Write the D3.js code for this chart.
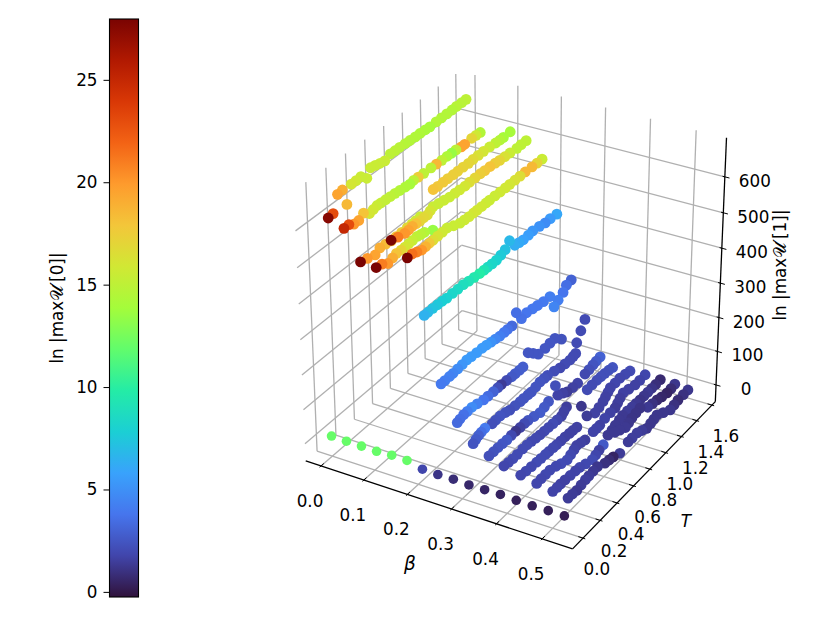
<!DOCTYPE html>
<html><head><meta charset="utf-8">
<script src="https://cdn.jsdelivr.net/npm/d3@7"></script>
<style>
body{margin:0;background:#fff}
text{font-family:"DejaVu Sans";fill:#000;font-size:16.8px}
</style>
</head><body><svg id="chart" width="830" height="623"></svg>
<script>
var xTicks=[0,0.1,0.2,0.3,0.4,0.5];
var yTicks=[0,0.2,0.4,0.6,0.8,1,1.2,1.4,1.6];
var zTicks=[0,100,200,300,400,500,600];
var cTicks=[0,5,10,15,20,25];
var turboStops=["#30123b","#4145ab","#4675ed","#39a2fc","#1bcfd4","#24eca6","#61fc6c","#a4fc3b","#d1e834","#f3c63a","#fe9b2d","#f36315","#d93806","#b11901","#7a0402"];

var betaValues=[0,0.035,0.07,0.105,0.14,0.175,0.21,0.245,0.28,0.315,0.35,0.385,0.42,0.455,0.49,0.525];

// T = 0 row
var rowZ=[9,8,8,7,10,9,-2,-3,-2,-4,-3,-2,-4,-5,-4,-4];
var rowC=[12,12,12,12,12,12,1.8,1.1,0.8,0.6,0.5,0.4,0.3,0.3,0.3,0.2];

// one list per beta
var tempValues=[
[.05,.10,.24,.15,.20,.29,.34,.39,.45,.49,.54,.59,.64,.70,.75,.80,.86,.91,.97,1.02,1.08,1.13,1.20,1.26,1.32,1.38,1.43,1.49,1.54],
[.05,.10,.15,.20,.25,.31,.35,.39,.43,.48,.53,.58,.63,.69,.74,.78,.83,.89,.97,1.03,1.09,1.15,1.20,1.25,1.31,1.35,1.43,1.48,1.53],
[.05,.12,.20,.25,.31,.37,.42,.48,.54,.59,.63,.68],
[.05,.11,.17,.22,.26,.31,.35,.39,.43,.48,.52,.56,.65,.66,.71,.77,.82,.88,.93,.99,1.05,1.10,1.16,1.22,1.29,1.36,1.41,1.45,1.53],
[.05,.12,.19,.23,.27,.31,.35,.39,.43,.46,.49,.55,.61,.67,.73,.78,.84,.89,.95,1.01,1.06,1.12,1.18,1.23,1.29,1.35,1.43,1.48,1.54],
[.05,.10,.15,.20,.24,.28,.32,.37,.42,.47,.54,.61,.66,.71,.76,.80,.85,.90,.94,1.00,1.06,1.12,1.17,1.23,1.29,1.35,1.43,1.49,1.55],
[.05,.09,.14,.19,.24,.29,.35,.41,.47,.53,.59,.65,.70,.74,.79,.84,.89,.94,.99,1.05,1.10,1.15,1.21,1.26,1.34,1.41,1.47,1.55],
[.05,.09,.14,.18,.23,.28,.33,.38,.44,.50,.55,.60,.65,.70,.75,.79,.84,.89,.95,1.01,1.08,1.14,1.21,1.29,1.34,1.39,1.45,1.49,1.55],
[.05,.08,.12,.16,.21,.27,.34,.39,.45,.50,.54,.60,.66,.70,.75,.79,.85,.91,.97,1.05,1.11,1.17,1.25,1.44,1.49,1.54],
[.05,.08,.11,.14,.18,.26,.30,.35,.41,.46,.52,.58,.62,.67,.71,.76,.81,.86,.90,.98,1.05,1.11,1.17,1.21,1.24,1.36,1.41,1.46,1.50,1.55],
[.05,.10,.15,.20,.25,.30,.35,.40,.45,.49,.56,.63,.68,.73,.81,.84,.90,.95,1.02,1.08,1.20,1.26,1.32,1.37,1.42,1.47,1.52],
[.04,.09,.14,.19,.25,.30,.35,.40,.45,.50,.55,.60,.65,.70,.73,.76,.94,1.01,1.11,1.16,1.21,1.24,1.27,1.30,1.36,1.42,1.49,1.55],
[.05,.11,.17,.23,.28,.33,.37,.42,.46,.51,.56,.61,.65,.70,.90,.94,.98,1.04,1.11,1.17,1.20,1.23,1.27,1.34,1.42,1.48,1.55],
[.05,.10,.15,.20,.27,.33,.40,.44,.48,.51,.56,.61,.89,.94,.98,1.03,1.07,1.13,1.19,1.24,1.29,1.34,1.39,1.44,1.49,1.55],
[.05,.10,.14,.19,.25,.31,.36,.43,.51,.55,.59,.64,.78,.84,.91,.95,.99,1.04,1.09,1.19,1.25,1.31,1.37,1.44,1.49,1.54],
[.04,.09,.14,.19,.24,.28,.33,.38,.47,.52,.57,.65,.75,.80,.86,.92,.98,1.03,1.07,1.11,1.19,1.28,1.33,1.38,1.45,1.51]
];
var lnMax1=[
[613,615,612,657,659,657,657,658,642,663,660,656,653,661,660,660,659,658,657,657,656,655,656,656,656,656,657,657,657],
[597,597,588,588,598,585,588,591,590,589,588,587,585,583,581,584,583,582,582,581,580,580,579,579,576,576,578,577,576],
[518,513,506,515,513,510,511,511,512,512,513,514],
[515,512,501,506,510,509,509,510,511,512,509,507,495,605,604,604,604,603,603,603,602,603,603,603,602,600,599,599,600],
[601,595,591,592,594,593,592,593,593,598,603,600,597,594,593,592,591,592,592,592,591,591,589,587,586,585,583,584,584],
[566,566,561,556,557,558,558,559,560,561,553,546,545,544,544,544,544,544,544,544,543,543,543,543,543,543,542,541,541],
[422,422,422,421,420,418,418,417,417,414,412,410,409,409,408,408,412,417,432,407,404,402,403,405,402,398,398,395],
[245,245,245,245,246,247,249,247,245,244,242,239,237,234,234,234,233,260,230,234,230,227,223,221,180,189,199,212,215],
[149,152,155,155,155,151,146,145,144,144,144,142,139,139,138,138,166,151,135,134,136,137,117,64,89,112],
[103,108,112,114,116,110,111,111,107,102,101,99,99,98,97,100,103,102,102,96,90,88,86,88,90,1,3,6,8,10],
[82,82,82,81,80,81,81,80,80,79,74,69,73,78,106,71,63,55,52,51,4,5,5,4,3,1,-2],
[70,68,67,67,68,68,66,63,61,60,59,58,57,56,63,69,29,-16,-31,-26,-20,-13,-6,1,1,2,-2,-6],
[56,53,51,49,48,47,46,45,44,43,43,41,40,38,-23,-23,-23,-17,-16,-16,-9,-1,6,1,-5,-5,-4],
[47,48,48,48,42,35,29,34,39,44,40,36,-17,-14,-9,-5,-1,-2,-4,-5,-6,-6,-6,-6,-6,-5],
[39,38,38,37,35,33,31,24,17,21,25,29,32,24,15,19,24,27,30,9,6,3,-2,-6,-5,-3],
[37,36,34,37,40,41,42,43,31,28,25,16,25,25,25,18,10,13,16,19,7,-6,-3,0,0,0]
];
var lnMax0=[
[27.5,23,18.5,19.5,19,16,15.8,15.5,15.5,15.5,15.5,15.5,15.5,15,14.9,14.8,14.6,14.5,14.4,14.3,14.1,14,14.5,14.5,14.5,14.5,14.7,14.8,15],
[25,23,20,19.5,18,16,15.8,15.5,15.3,15.2,15,14.8,14.5,14.3,14,15,17.5,15,15,18.5,15,14.3,13.5,15,19.5,19.5,17,15.8,14.5],
[28,20,19.5,19,18.5,18,17.8,17.5,16.8,16,15.8,15.5],
[28,21,20,19,18,17,16,15.7,15.3,15,14.8,14.5,13.5,18,17.8,17.7,17.5,17.4,17.3,17.1,17,16.7,16.3,16,15.5,15,14.5,14,14],
[28,21,20,19.5,19,18,17,16.8,16.5,16,15.5,15.5,15.5,15.5,15.7,15.8,16,16.5,17,17.5,17.8,18,17.5,17,16.3,15.5,15,15,15],
[28,21.5,20.8,20,18.8,17.7,16.5,16.2,15.8,15.5,15.5,15.5,15.7,15.8,16,15.9,15.8,15.6,15.5,15.6,15.8,15.9,16,16.3,16.5,18.5,18.5,17,15.5],
[6.5,6.9,7.3,7.5,7.8,8,8.3,8.5,8.8,9.1,9.5,9.8,9.2,8.5,8.3,8,7.6,7.2,6.8,6.3,6.1,5.8,5.6,5.3,5.1,4.8,5.5,6],
[4,4.2,4.3,4.5,4.8,5.2,5.5,5.5,5.5,5.5,5.5,5.1,4.6,4.2,3.9,3.6,3.3,3.5,3.6,3.8,3.9,3.9,4,4.2,4.5,4.2,3.8,3.5,3],
[3.3,3.5,3.6,4.2,4.8,4.3,3.8,3.4,3,2.2,1.4,2,2.6,2.7,2.8,2.8,2.5,2.5,2.5,2.5,2.5,2.4,2.3,2,2,2],
[2.4,2.7,2.9,3.5,4,2.2,2.3,2.4,2.3,2.2,2.3,2.4,2.4,2.4,2.4,2.4,2.4,2.3,2.2,2.1,1.9,2,2,2,2,1.9,2.2,2.4,2.7,3],
[2.2,2.3,2.4,2.5,2.6,1.9,1.2,1.6,2,2.4,2.6,2.7,2.6,2.5,2.2,1.7,1.6,1.4,1.6,1.7,2,2,2.1,2.2,2.2,2.3,2.4],
[1.8,1.9,2,2,2,2,1.9,1.9,1.8,1.9,1.9,2,1.8,1.6,1.6,1.5,1.2,1.4,1.6,1.6,1.6,1.6,1.7,1.7,1.8,1.8,1.9,2],
[1.8,1.9,1.9,2,2,2,1.9,1.9,1.8,1.7,1.6,1.6,1.6,1.6,1.7,1.7,1.6,1.7,1.6,1.4,1.5,1.5,1.6,1.6,1.6,1.7,1.8],
[1.8,1.8,1.9,1.9,1.9,2,2,1.9,1.7,1.6,1.6,1.5,1.3,1.3,1.3,1.3,1.3,1.4,1.4,1.3,1.1,1.2,1.3,1.1,.9,.7],
[1.7,1.7,1.6,1.6,1.7,1.7,1.8,1.9,2,1.8,1.6,2.6,1.3,1.3,1.3,1.2,1.1,1.1,1.1,1.3,1,.7,.6,.5,.8,1.2],
[1.4,1.4,1.3,1.4,1.5,1.4,1.3,1.2,1,.8,.5,1.4,1.4,1.5,1.5,1.4,1.2,1.2,1.2,1.2,1.2,1.2,1,.8,1,1.2]
];

var svg=d3.select("#chart");

var xLim=[-0.036,0.5656], yLim=[-0.119,1.645], zLim=[-50.5,707];
var scaleX=d3.scaleLinear().domain(xLim).range([-0.55,0.55]);
var scaleY=d3.scaleLinear().domain(yLim).range([-0.55,0.55]);
var scaleZ=d3.scaleLinear().domain(zLim).range([-0.55,0.55]);

// view elev 30, azim -60, camera at distance 10
var cx=514, cy=301, zoomPx=2800;
var right=[0.866,0.5,0], up=[-0.25,0.433,0.866], toEye=[0.433,-0.75,0.5];
function dot(a,b){return a[0]*b[0]+a[1]*b[1]+a[2]*b[2];}
function depth(x,y,z){return 10-dot(toEye,[scaleX(x),scaleY(y),scaleZ(z)]);}
function P(x,y,z){
  var d=[scaleX(x),scaleY(y),scaleZ(z)], w=10-dot(toEye,d);
  return [cx+zoomPx*dot(right,d)/w, cy-zoomPx*dot(up,d)/w];
}
function seg(g,a,b,color,width){
  g.append("line").attr("x1",a[0]).attr("y1",a[1]).attr("x2",b[0]).attr("y2",b[1])
    .attr("stroke",color).attr("stroke-width",width);
}

var grid=svg.append("g");
xTicks.forEach(function(t){
  seg(grid,P(t,yLim[0],zLim[0]),P(t,yLim[1],zLim[0]),"#b0b0b0",1.3);
  seg(grid,P(t,yLim[1],zLim[0]),P(t,yLim[1],zLim[1]),"#b0b0b0",1.3);
});
yTicks.forEach(function(t){
  seg(grid,P(xLim[0],t,zLim[0]),P(xLim[1],t,zLim[0]),"#b0b0b0",1.3);
  seg(grid,P(xLim[0],t,zLim[0]),P(xLim[0],t,zLim[1]),"#b0b0b0",1.3);
});
zTicks.forEach(function(t){
  seg(grid,P(xLim[0],yLim[0],t),P(xLim[0],yLim[1],t),"#b0b0b0",1.3);
  seg(grid,P(xLim[0],yLim[1],t),P(xLim[1],yLim[1],t),"#b0b0b0",1.3);
});

var axes=svg.append("g");
seg(axes,P(xLim[0],yLim[0],zLim[0]),P(xLim[1],yLim[0],zLim[0]),"#000",1.3);
seg(axes,P(xLim[1],yLim[0],zLim[0]),P(xLim[1],yLim[1],zLim[0]),"#000",1.3);
seg(axes,P(xLim[1],yLim[1],zLim[0]),P(xLim[1],yLim[1],zLim[1]),"#000",1.3);

var xSpan=xLim[1]-xLim[0], ySpan=yLim[1]-yLim[0];
function label(pos,dx,dy,txt){
  axes.append("text").attr("x",pos[0]+dx).attr("y",pos[1]+dy)
    .attr("text-anchor","middle").attr("dominant-baseline","central").text(txt);
}
xTicks.forEach(function(t){
  seg(axes,P(t,yLim[0]-ySpan/120,zLim[0]),P(t,yLim[0]+ySpan/60,zLim[0]),"#000",1);
  label(P(t,yLim[0],zLim[0]),-11,35,d3.format(".1f")(t));
});
yTicks.forEach(function(t){
  seg(axes,P(xLim[1]+xSpan/120,t,zLim[0]),P(xLim[1]-xSpan/60,t,zLim[0]),"#000",1);
  label(P(xLim[1],t,zLim[0]),14,31,d3.format(".1f")(t));
});
zTicks.forEach(function(t){
  seg(axes,P(xLim[1]+xSpan/60,yLim[1],t),P(xLim[1]-xSpan/120,yLim[1],t),"#000",1);
  label(P(xLim[1],yLim[1],t),30,4,String(t));
});

axes.append("text").attr("x",410).attr("y",563).attr("text-anchor","middle")
  .attr("dominant-baseline","central").style("font-style","italic").style("font-size","18.5px").text("β");
axes.append("text").attr("x",686).attr("y",521).attr("text-anchor","middle")
  .attr("dominant-baseline","central").style("font-style","italic").text("T");
axes.append("text").attr("transform","translate(780,265) rotate(-90)").attr("text-anchor","middle")
  .attr("dominant-baseline","central").text("ln |max𝒰′[1]|");

// colorbar
var cDomain=[-0.25,27.97];
var colorScale=d3.scaleLinear()
  .domain(turboStops.map(function(c,i){return cDomain[0]+i*(cDomain[1]-cDomain[0])/14;}))
  .range(turboStops).interpolate(d3.interpolateRgb).clamp(true);

var points=[];
betaValues.forEach(function(b,i){
  points.push({x:b,y:0,z:rowZ[i],c:rowC[i],r:4.8});
  tempValues[i].forEach(function(t,j){
    points.push({x:b,y:t,z:lnMax1[i][j],c:lnMax0[i][j],r:5.4});
  });
});
points.sort(function(a,b){return d3.descending(depth(a.x,a.y,a.z),depth(b.x,b.y,b.z));});

svg.append("g").selectAll("circle").data(points).enter().append("circle")
  .attr("cx",function(d){return P(d.x,d.y,d.z)[0];})
  .attr("cy",function(d){return P(d.x,d.y,d.z)[1];})
  .attr("r",function(d){return d.r;})
  .attr("fill",function(d){return colorScale(d.c);});

var barScale=d3.scaleLinear().domain(cDomain).range([597,19]);
var grad=svg.append("defs").append("linearGradient").attr("id","turbo")
  .attr("x1",0).attr("x2",0).attr("y1",1).attr("y2",0);
turboStops.forEach(function(c,i){
  grad.append("stop").attr("offset",i/14).attr("stop-color",c);
});
svg.append("rect").attr("x",109.5).attr("y",19).attr("width",29).attr("height",578)
  .attr("fill","url(#turbo)").attr("stroke","#000").attr("stroke-width",1.1);
var barAxis=svg.append("g").attr("transform","translate(109.5,0)")
  .call(d3.axisLeft(barScale).tickValues(cTicks).tickSize(6).tickPadding(6));
barAxis.select(".domain").remove();
barAxis.attr("font-family",null).attr("font-size",null);
svg.append("text").attr("transform","translate(57,308) rotate(-90)").attr("text-anchor","middle")
  .attr("dominant-baseline","central").text("ln |max𝒰′[0]|");
</script></body></html>
